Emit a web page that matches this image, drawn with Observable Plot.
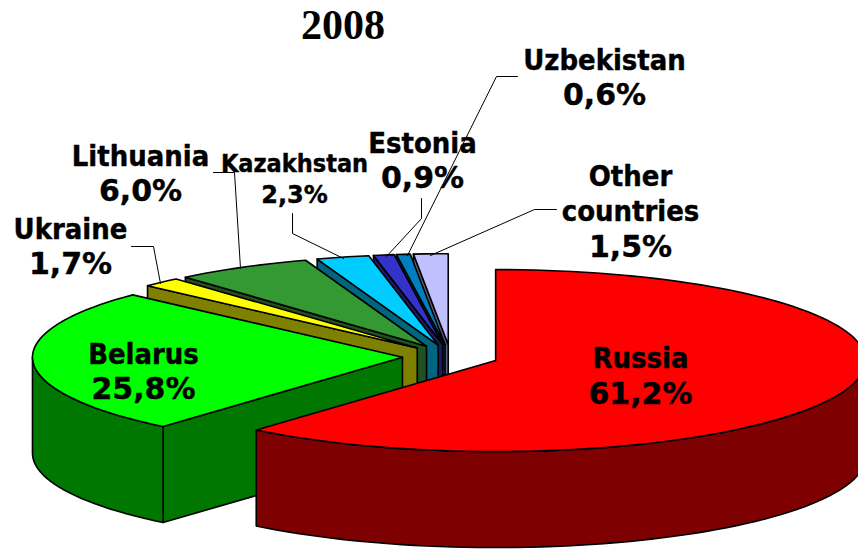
<!DOCTYPE html>
<html>
<head>
<meta charset="utf-8">
<style>html,body{margin:0;padding:0;background:#fff}svg{display:block}</style>
<script src="https://cdn.jsdelivr.net/npm/d3@7"></script>
<script src="https://cdn.jsdelivr.net/npm/@observablehq/plot@0.6"></script>
</head>
<body>
<script>
const title = "2008";
const names = ["Russia","Belarus","Ukraine","Lithuania","Kazakhstan","Estonia","Uzbekistan","Other\ncountries"];
const shares = [61.2,25.8,1.7,6.0,2.3,0.9,0.6,1.5];
const topColors = ["#ff0000","#00ff00","#ffff00","#339933","#00ccff","#3333cc","#0080c0","#c0c0ff"];
const sideColors = ["#7f0000","#007700","#808000","#1f5220","#006680","#1a1a66","#004060","#606080"];

// label layout (centre x, baselines of name and share, font sizes)
const labelX = [640,143,70,140,294,422,604,630];
const nameY = [367,363,238,165,171,152,69,220];
const shareY = [403,398,273,200,202,187,104,256];
const nameSize = [28.9,28.9,28.9,28.9,25,28.9,28.9,28.9];
const shareSize = [30,30,30,30,24,30,30,30];

// leader polylines, ending on the rim of each slice
const leaderPaths = [
  [[131,246],[153,246],[160,283]],
  [[213,172],[234,172],[240,268]],
  [[292,213],[292,233],[343,258]],
  [[421,198],[421,218],[386,256]],
  [[517,76],[496,76],[407,255]],
  [[556,209],[534,209],[430,255]]
];

// pie projection
const cx = 450, cy = 356, rx = 370, ry = 91, depth = 96, explode = 0.13;
const px = (o, deg, r) => o[0] + r * rx * Math.sin(deg * Math.PI / 180);
const py = (o, deg, r) => o[1] - r * ry * Math.cos(deg * Math.PI / 180);
const at = (o, deg, r = 1, dz = 0) => [px(o, deg, r), py(o, deg, r) + dz];
const arc = (o, a, b, dz = 0) => {
  const n = Math.max(2, Math.ceil(Math.abs(b - a) / 2));
  return d3.range(n + 1).map(i => at(o, a + (b - a) * i / n, 1, dz));
};

const total = d3.sum(shares);
let acc = 0;
const slices = shares.map((v, i) => {
  const a = acc / total * 360; acc += v; const b = acc / total * 360;
  const mid = (a + b) / 2;
  return {i, a, b, apex: at([cx, cy], mid, explode)};
});

const polys = [];
const add = (pts, fill) => polys.push({pts, fill, key: polys.length});
const drawOrder = [...slices.slice(1).reverse(), slices[0]];
for (const s of drawOrder) {
  const side = sideColors[s.i];
  if (s.a > 180) {
    add([s.apex, at(s.apex, s.a), at(s.apex, s.a, 1, depth), at(s.apex, s.a, 0, depth)], side);
  }
  const r0 = Math.max(s.a, 90), r1 = Math.min(s.b, 270);
  if (r1 > r0) {
    add([...arc(s.apex, r0, r1), ...arc(s.apex, r1, r0, depth)], side);
  }
  add([s.apex, ...arc(s.apex, s.a, s.b)], topColors[s.i]);
}
const polyPoints = polys.flatMap(p => p.pts.map(([x, y]) => ({x, y, key: p.key, fill: p.fill})));
const leaderPoints = leaderPaths.flatMap((p, k) => p.map(([x, y]) => ({x, y, k})));
const nameRows = names.map((n, i) => ({text: n, x: labelX[i], y: nameY[i], size: nameSize[i]}));
const shareRows = shares.map((v, i) => ({text: v.toFixed(1).replace(".", ",") + "%", x: labelX[i], y: shareY[i], size: shareSize[i]}));

const textMark = (rows, family) => [...new Set(rows.map(d => d.size))].map(sz =>
  Plot.text(rows.filter(d => d.size === sz), {
    x: "x", y: "y", text: "text", fontSize: sz, fontWeight: "bold", fontFamily: family,
    fill: "#000", stroke: "#000", strokeWidth: 0.4, lineAnchor: "bottom", lineHeight: 1.2, textAnchor: "middle"
  }));

const chart = Plot.plot({
  width: 858, height: 549, margin: 0,
  style: {background: "#fff", overflow: "hidden"},
  x: {domain: [0, 858], range: [0, 858], axis: null},
  y: {domain: [0, 549], range: [0, 549], axis: null},
  marks: [
    Plot.line(polyPoints, {x: "x", y: "y", z: "key", fill: "fill", stroke: "#000", strokeWidth: 1.6,
      strokeLinejoin: "round", curve: "linear-closed"}),
    Plot.line(leaderPoints, {x: "x", y: "y", z: "k", stroke: "#000", strokeWidth: 1, curve: "linear"}),
    ...textMark(nameRows, "'DejaVu Sans Condensed'"),
    ...textMark(shareRows, "'DejaVu Sans'"),
    Plot.text([title], {x: () => 342.5, y: () => 38, text: d => d, fontSize: 42, fontWeight: "bold",
      fontFamily: "'Liberation Serif'", fill: "#000", lineAnchor: "bottom"})
  ]
});
document.body.appendChild(chart);
</script>
</body>
</html>
